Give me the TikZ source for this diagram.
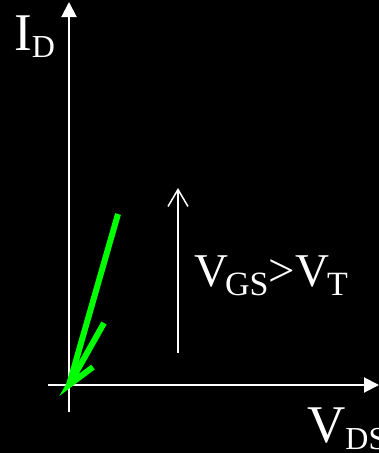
\documentclass[tikz,border=0pt]{standalone}
\usepackage{fontspec}
\setmainfont{Liberation Serif}
\usetikzlibrary{arrows.meta}

% lowered subscript: drop, size, text
\newcommand{\lowsub}[3]{\lower#1pt\hbox{\fontsize{#2}{#2}\selectfont #3}}

\begin{document}
\begin{tikzpicture}[x=1pt, y=-1pt,
    axis/.style={draw=white, line width=2pt, -{Triangle[length=15pt, width=15pt]}},
    rise/.style={draw=white, line width=1.5pt, -{Straight Barb[length=17pt, width=20pt]}},
    curve/.style={draw=green, line width=6pt},
    biglabel/.style={text=white, inner sep=0pt, anchor=base west, font=\fontsize{53}{53}\selectfont},
    midlabel/.style={text=white, inner sep=0pt, anchor=base west, font=\fontsize{47}{47}\selectfont}]
    \fill[black] (0,0) rectangle (379,453);
    \useasboundingbox (0,0) rectangle (379,453);

    % axes
    \coordinate (ybot) at (69,412);
    \coordinate (ytop) at (69,2);
    \coordinate (xleft) at (48,385);
    \coordinate (xright) at (379,385);
    \draw[axis] (ybot) -- (ytop);
    \draw[axis] (xleft) -- (xright);

    % green arrow into the origin
    \coordinate (gtop) at (118,214);
    \coordinate (gtip) at (69,385);
    \coordinate (gbarbl) at (104,323);
    \coordinate (gbarbr) at (93,367);
    \draw[curve] (gtop) -- (gtip);
    \draw[curve, line join=miter] (gbarbl) -- (gtip) -- (gbarbr);

    % rising gate voltage
    \coordinate (rlow) at (178,353);
    \coordinate (rhigh) at (178,188);
    \draw[rise] (rlow) -- (rhigh);

    % labels
    \node[biglabel] (id) at (14,50) {I\lowsub{7}{32}{D}};
    \node[midlabel] (vgs) at (194,286) {V\kern-3pt\lowsub{9}{34}{GS}>V\kern-2pt\lowsub{9}{34}{T}};
    \node[biglabel] (vds) at (307,442) {V\lowsub{7}{32}{DS}};
\end{tikzpicture}
\end{document}
